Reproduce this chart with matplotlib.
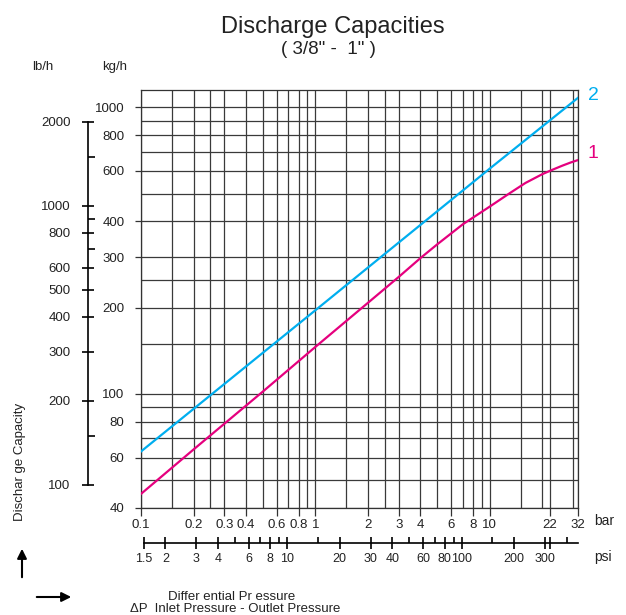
import numpy as np
import matplotlib
matplotlib.use('Agg')
import matplotlib.pyplot as plt
from matplotlib.ticker import NullFormatter, FixedLocator

plt.rcParams['font.family'] = ['Liberation Sans Narrow', 'Liberation Sans', 'DejaVu Sans']

# curve data (bar -> kg/h)
bar_2 = [0.1, 1, 10, 32]
kg_2 = [63, 196, 612, 1080]
bar_1 = [0.1, 0.2, 0.5, 1, 2, 3, 4, 5, 7, 10, 13, 16, 20, 23, 26, 29, 32]
kg_1 = [44.8, 64, 102, 146, 208, 256, 298, 333, 391, 451, 502, 545, 585, 607, 626, 642, 655]

# axis ticks
bar_ticks = [0.1, 0.2, 0.3, 0.4, 0.6, 0.8, 1, 2, 3, 4, 6, 8, 10, 22, 32]
bar_labels = ['0.1', '0.2', '0.3', '0.4', '0.6', '0.8', '1', '2', '3', '4', '6', '8', '10', '22', '32']
bar_grid = [0.15, 0.25, 0.5, 0.7, 0.9, 1.5, 2.5, 5, 7, 9, 15, 20, 30]
kg_ticks = [40, 60, 80, 100, 200, 300, 400, 600, 800, 1000]
kg_grid = [50, 70, 90, 150, 250, 500, 700, 900]
psi_ticks = [1.5, 2, 3, 4, 6, 8, 10, 20, 30, 40, 60, 80, 100, 200, 300, 319, 465]
psi_labels = ['1.5', '2', '3', '4', '6', '8', '10', '20', '30', '40', '60', '80', '100', '200', '300', '', '465']
psi_minor = [5, 7, 9, 15, 50, 70, 90, 150, 400]
lb_ticks = [100, 200, 300, 400, 500, 600, 800, 1000, 2000]
lb_minor = [150, 700, 900, 1500]

W, H = 626, 615
fig = plt.figure(figsize=(W / 100, H / 100), dpi=100)
txt = '#222222'

def fx(px):
    return px / W

def fy(py):
    return 1 - py / H

# main chart
ax = fig.add_axes([fx(141), fy(508), fx(578) - fx(141), fy(90) - fy(508)])
ax.set_xscale('log')
ax.set_yscale('log')
ax.set_xlim(0.1, 32)
ax.set_ylim(40, 1150)
ax.plot(bar_2, kg_2, color='#00AEEF', lw=1.6, zorder=3)
ax.plot(bar_1, kg_1, color='#E5007E', lw=1.6, zorder=3)

ax.xaxis.set_major_locator(FixedLocator(bar_ticks))
ax.set_xticklabels(bar_labels)
ax.xaxis.set_minor_locator(FixedLocator(bar_grid))
ax.xaxis.set_minor_formatter(NullFormatter())
ax.yaxis.set_major_locator(FixedLocator(kg_ticks))
ax.set_yticklabels([str(v) for v in kg_ticks])
ax.yaxis.set_minor_locator(FixedLocator(kg_grid))
ax.yaxis.set_minor_formatter(NullFormatter())
ax.grid(True, which='both', color='#3a3a3a', lw=0.9)
ax.tick_params(which='major', length=6, width=0.9, color='#333333', labelsize=9.5, labelcolor=txt)
ax.tick_params(axis='x', which='major', pad=2)
ax.tick_params(axis='y', which='major', length=4, pad=8)
ax.tick_params(which='minor', length=0)
for s in ax.spines.values():
    s.set_color('#333333')
    s.set_linewidth(0.9)

ax.text(1.022, 0.986, '2', transform=ax.transAxes, color='#00AEEF', fontsize=14, va='center', ha='left')
ax.text(1.022, 0.847, '1', transform=ax.transAxes, color='#E5007E', fontsize=14, va='center', ha='left')

# psi axis
ap = fig.add_axes([fx(141), fy(543), fx(578) - fx(141), 0.0001])
ap.set_xscale('log')
ap.set_xlim(0.1 * 14.5038, 32 * 14.5038)
for k in ['top', 'left', 'right']:
    ap.spines[k].set_visible(False)
ap.spines['bottom'].set_bounds(1.5, 465)
ap.spines['bottom'].set_linewidth(1.2)
ap.patch.set_visible(False)
ap.set_yticks([])
ap.xaxis.set_major_locator(FixedLocator(psi_ticks))
ap.set_xticklabels(psi_labels)
ap.xaxis.set_minor_locator(FixedLocator(psi_minor))
ap.xaxis.set_minor_formatter(NullFormatter())
ap.tick_params(axis='x', which='major', direction='inout', length=8, width=1.2, labelsize=9, labelcolor=txt, pad=3)
ap.tick_params(axis='x', which='minor', direction='in', length=4, width=1.2)

# lb/h axis
al = fig.add_axes([fx(88), fy(508), 0.0001, fy(90) - fy(508)])
al.set_yscale('log')
al.set_ylim(82.7, 2598)
for k in ['top', 'bottom', 'right']:
    al.spines[k].set_visible(False)
al.spines['left'].set_bounds(100, 2000)
al.spines['left'].set_linewidth(1.2)
al.patch.set_visible(False)
al.set_xticks([])
al.yaxis.set_major_locator(FixedLocator(lb_ticks))
al.set_yticklabels([str(v) for v in lb_ticks])
al.yaxis.set_minor_locator(FixedLocator(lb_minor))
al.yaxis.set_minor_formatter(NullFormatter())
al.tick_params(axis='y', which='major', direction='inout', length=9, width=1.2, labelsize=9.5, labelcolor=txt, pad=8)
al.tick_params(axis='y', which='minor', direction='in', length=5, width=1.2)

# texts
fig.text(fx(333), fy(27), 'Discharge Capacities', ha='center', va='center', fontsize=17, color=txt)
fig.text(fx(328), fy(50), '( 3/8" -  1" )', ha='center', va='center', fontsize=13.5, color=txt)
fig.text(fx(43), fy(67), 'lb/h', ha='center', va='center', fontsize=9.5, color=txt)
fig.text(fx(115), fy(67), 'kg/h', ha='center', va='center', fontsize=9.5, color=txt)
fig.text(fx(594), fy(521), 'bar', ha='left', va='center', fontsize=10, color=txt)
fig.text(fx(594), fy(557), 'psi', ha='left', va='center', fontsize=10, color=txt)
fig.text(fx(20), fy(462), 'Dischar ge Capacity', ha='center', va='center', rotation=90, fontsize=9.5, color=txt)
fig.text(fx(168), fy(597), 'Differ ential Pr essure', ha='left', va='center', fontsize=9.5, color=txt)
fig.text(fx(130), fy(609), '\u0394P  Inlet Pressure - Outlet Pressure', ha='left', va='center', fontsize=9.5, color=txt)

# arrows
fig.add_artist(plt.Annotation('', xy=(22, H - 546), xytext=(22, H - 580), xycoords='figure pixels',
                              arrowprops=dict(arrowstyle='-|>', color='black', lw=1.5, mutation_scale=14)))
fig.add_artist(plt.Annotation('', xy=(74, H - 597), xytext=(34, H - 597), xycoords='figure pixels',
                              arrowprops=dict(arrowstyle='-|>', color='black', lw=1.5, mutation_scale=14)))

fig.savefig('out.png', dpi=100)
